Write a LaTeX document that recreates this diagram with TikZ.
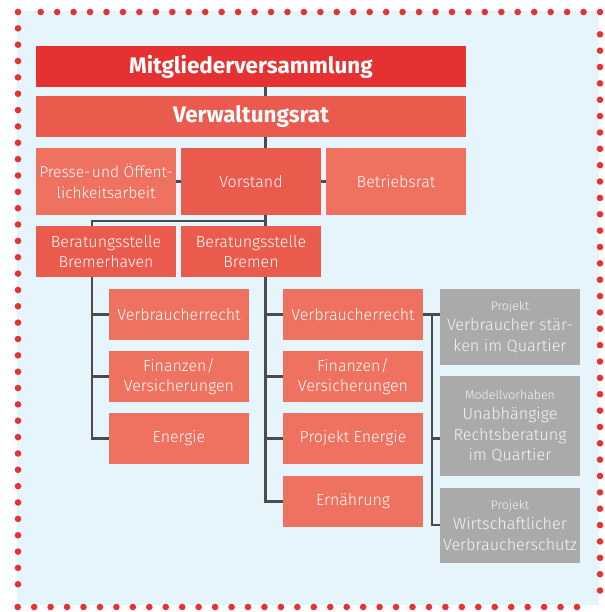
\documentclass[tikz,border=0pt]{standalone}
\usepackage{fontspec}
\setmainfont{Fira Sans}[UprightFont=* Light, BoldFont=* Bold]
\definecolor{bgblue}{HTML}{E6F4FC}
\definecolor{dotred}{HTML}{E53333}
\definecolor{redA}{HTML}{E63133}
\definecolor{redB}{HTML}{EB5B4D}
\definecolor{redC}{HTML}{EF7160}
\definecolor{boxgray}{HTML}{AAAAAA}
\definecolor{linegray}{HTML}{4B4B4B}
\definecolor{graytext}{HTML}{F4F4F4}
\tikzset{
  box/.style={rectangle, inner sep=0pt, align=center, text=white,
    font=\fontsize{16}{20.5}\selectfont},
  titlebox/.style={box, minimum width=430, minimum height=41,
    font=\fontsize{22.5}{26}\selectfont\bfseries},
  midbox/.style={box, minimum width=140},
  subbox/.style={box, fill=redC, minimum width=140, minimum height=51},
  projbox/.style={box, fill=boxgray, minimum width=140, text=graytext,
    font=\fontsize{16.2}{20.5}\selectfont},
  conn/.style={draw=linegray, line width=2.2pt},
  dot/.style={fill=dotred}
}
\newcommand{\smalltag}[1]{{\fontsize{12.4}{20.5}\selectfont #1}}
\begin{document}
\begin{tikzpicture}[x=1pt,y=-1pt]
\useasboundingbox (0,0) rectangle (604,612);
\fill[bgblue] (17,11) rectangle (599,605);
% dotted frame
\foreach \k in {0,...,34} \fill[dot] (40.7+16.45*\k,12) circle (3.3);
\foreach \k in {0,...,34} \fill[dot] (600,34.3+16.36*\k) circle (3.3);
\foreach \k in {0,...,34} \fill[dot] (17.7+16.45*\k,607) circle (3.3);
\foreach \k in {0,...,35} \fill[dot] (18,12+16.35*\k) circle (3.3);

% spine coordinates
\coordinate (sp) at (265.5,0);
\coordinate (spA) at (92,0);
\coordinate (spC) at (431.7,0);
\coordinate (jy) at (0,221);

% nodes
\node[titlebox, fill=redA] (mv) at (251,66.5) {Mitgliederversammlung};
\node[titlebox, fill=redB] (vr) at (251,116.5) {Verwaltungsrat};
\node[midbox, fill=redC, minimum height=67, font=\fontsize{15.6}{20.5}\selectfont] (presse) at (106,181.5) {Presse-\kern1.5pt und Öffent-\\lichkeitsarbeit};
\node[midbox, fill=redB, minimum height=67] (vorstand) at (251,181.5) {Vorstand};
\node[midbox, fill=redC, minimum height=67] (betrieb) at (396,181.5) {Betriebsrat};
\node[midbox, fill=redB, minimum height=51] (bhv) at (106,251.5) {Beratungsstelle\\Bremerhaven};
\node[midbox, fill=redB, minimum height=51] (bre) at (251,251.5) {Beratungsstelle\\Bremen};

\node[subbox] (a1) at (179,314.5) {Verbraucherrecht};
\node[subbox] (a2) at (179,376.5) {Finanzen/\\Versicherungen};
\node[subbox] (a3) at (179,438.5) {Energie};

\node[subbox] (b1) at (353,314.5) {Verbraucherrecht};
\node[subbox] (b2) at (353,376.5) {Finanzen/\\Versicherungen};
\node[subbox] (b3) at (353,438.5) {Projekt Energie};
\node[subbox] (b4) at (353,501.5) {Ernährung};

\node[projbox, minimum height=75.5] (c1) at (510,326.75) {\smalltag{Projekt}\\Verbraucher stär-\\ken im Quartier};
\node[projbox, minimum height=100] (c2) at (510,426) {\smalltag{Modellvorhaben}\\Unabhängige\\Rechtsberatung\\im Quartier};
\node[projbox, minimum height=75.5] (c3) at (510,525.25) {\smalltag{Projekt}\\Wirtschaftlicher\\Verbraucherschutz};

% connectors
\draw[conn] (mv.south -| sp) -- (vr.north -| sp);
\draw[conn] (vr.south -| sp) -- (vorstand.north -| sp);
\draw[conn] (presse.east) -- (vorstand.west);
\draw[conn] (vorstand.east) -- (betrieb.west);
\draw[conn] (vorstand.south -| sp) -- (bre.north -| sp);
\draw[conn] (sp |- jy) -| (bhv.north -| spA);
% Bremerhaven column
\draw[conn] (bhv.south -| spA) |- (a3.west);
\draw[conn] (spA |- a1.west) -- (a1.west);
\draw[conn] (spA |- a2.west) -- (a2.west);
% Bremen column
\draw[conn] (bre.south -| sp) |- (b4.west);
\draw[conn] (sp |- b1.west) -- (b1.west);
\draw[conn] (sp |- b2.west) -- (b2.west);
\draw[conn] (sp |- b3.west) -- (b3.west);
% project column
\draw[conn] (b1.east) -- (c1.west |- b1.east);
\draw[conn] (spC |- b1.east) |- (c3.west);
\draw[conn] (spC |- b3.east) -- (c2.west |- b3.east);
\end{tikzpicture}
\end{document}
